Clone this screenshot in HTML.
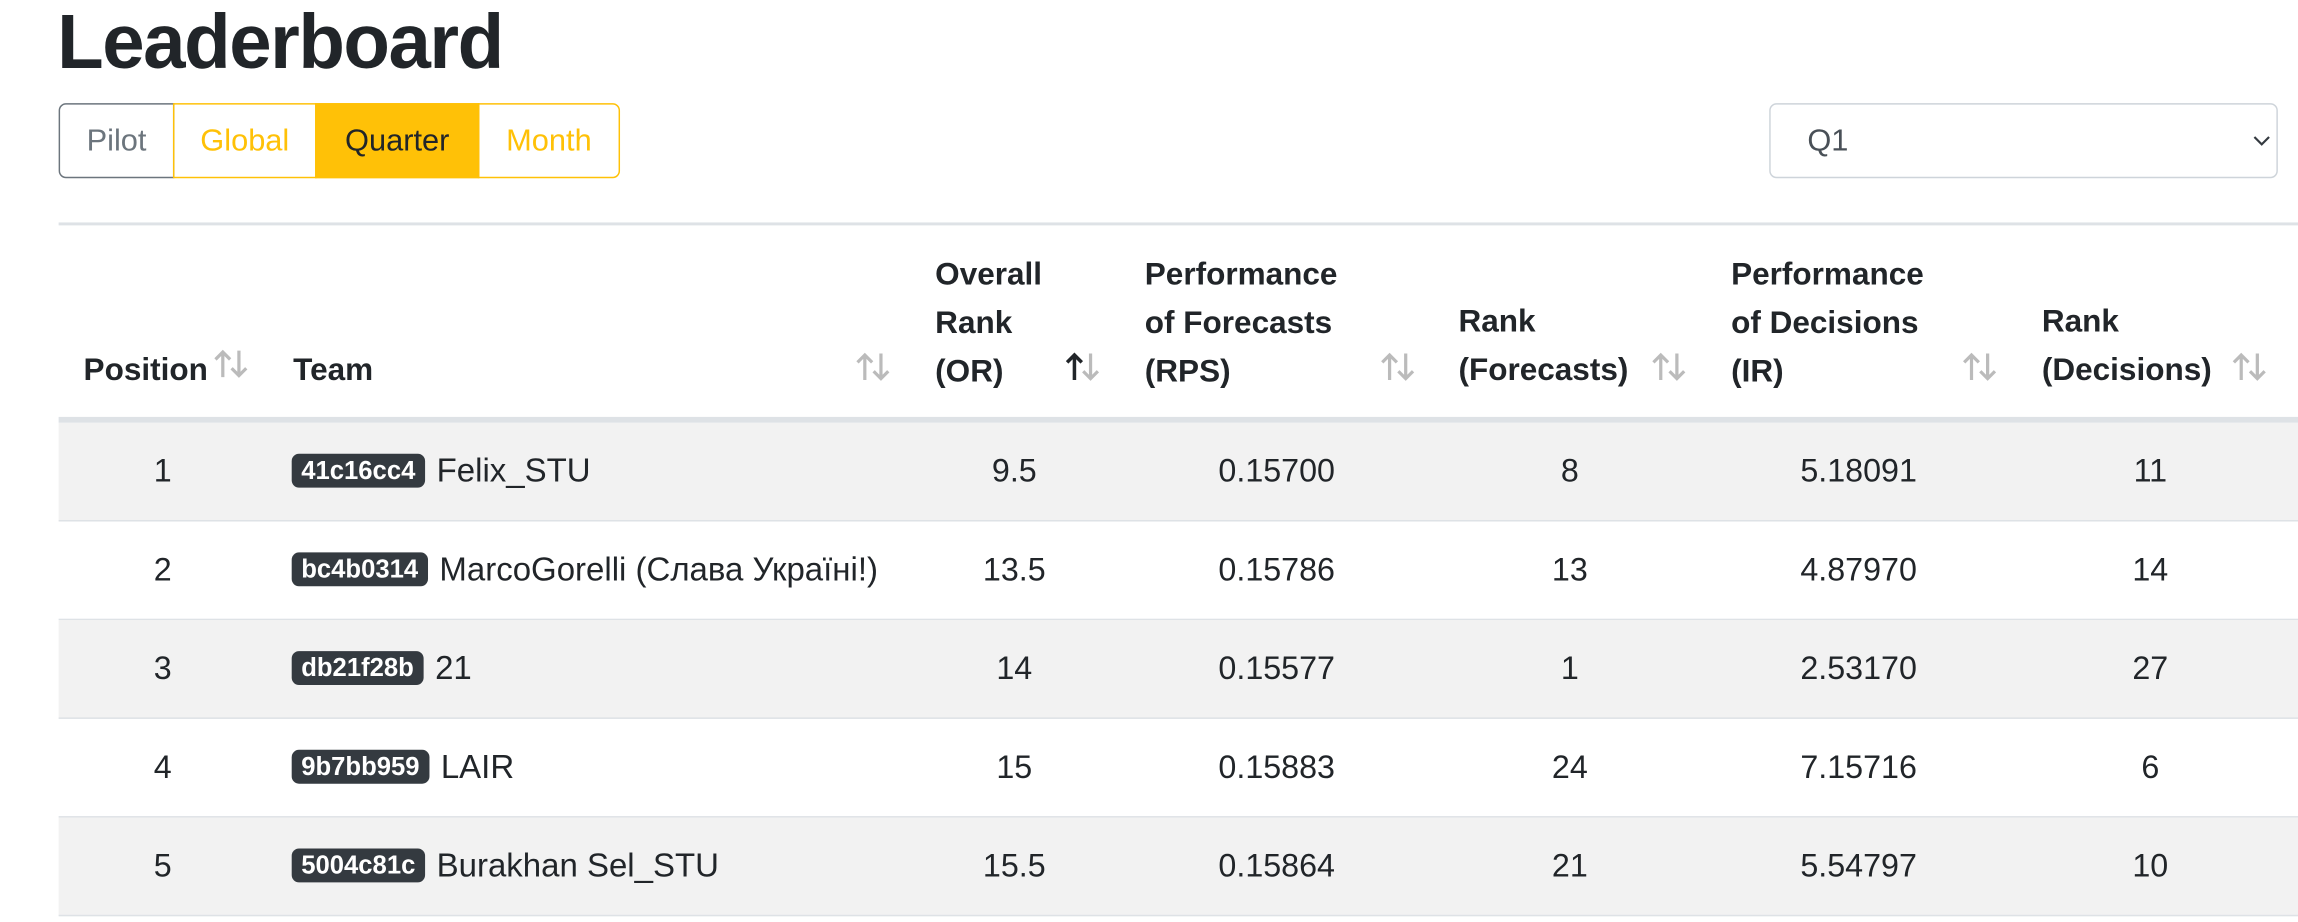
<!DOCTYPE html>
<html><head><meta charset="utf-8"><style>
html,body{margin:0;padding:0;width:2298px;height:922px;overflow:hidden;background:#fff}
#w{position:absolute;left:0;top:0;width:1568px;height:626px;transform:scale(1.4658,1.4731);transform-origin:0 0;font-family:"Liberation Sans","DejaVu Sans",sans-serif;color:#212529}
.a{position:absolute;white-space:nowrap}
.btn{position:absolute;top:70px;height:51px;box-sizing:border-box;font-size:21px;line-height:49px;text-align:center}
.th{position:absolute;font-weight:bold;font-size:21.5px;line-height:33px;white-space:nowrap}
.row{position:absolute;left:40px;width:1528px;height:66px;border-bottom:1px solid #dee2e6}
.c{position:absolute;width:200px;margin-left:-100px;text-align:center;font-size:22px;line-height:66px}
.badge{display:inline-block;background:#343a40;color:#fff;font-weight:bold;font-size:17.5px;line-height:23px;padding:0 6.5px;border-radius:5px;vertical-align:2px;margin-right:8px;font-family:"Liberation Sans",sans-serif}
.team{position:absolute;left:159px;font-size:22.5px;line-height:66px;white-space:nowrap}
.si{position:absolute}
</style></head><body>
<div id="w">
<div class="a" style="left:39px;top:-3px;font-size:52px;font-weight:bold;letter-spacing:-1px;line-height:64px">Leaderboard</div>

<div class="btn" style="left:40px;width:79px;border:1px solid #6c757d;border-radius:5px 0 0 5px;color:#6c757d">Pilot</div>
<div class="btn" style="left:118px;width:98px;border:1px solid #ffc107;color:#ffc107">Global</div>
<div class="btn" style="left:215px;width:112px;border:1px solid #ffc107;background:#ffc107;color:#212529">Quarter</div>
<div class="btn" style="left:326px;width:97px;border:1px solid #ffc107;border-radius:0 5px 5px 0;color:#ffc107">Month</div>

<div class="btn" style="left:1207px;width:347px;border:1px solid #ced4da;border-radius:5px;text-align:left;padding-left:25px;color:#495057">Q1
<svg style="position:absolute;right:4px;top:20px" width="12" height="10"><path d="M1 2 L6 7 L11 2" fill="none" stroke="#343a40" stroke-width="1.5"/></svg></div>

<div class="a" style="left:40px;top:151px;width:1528px;height:2px;background:#dee2e6"></div>

<div class="th" style="left:57px;top:235px">Position</div>
<div class="th" style="left:200px;top:235px">Team</div>
<div class="th" style="left:638px;top:170px">Overall<br>Rank<br>(OR)</div>
<div class="th" style="left:781px;top:170px">Performance<br>of Forecasts<br>(RPS)</div>
<div class="th" style="left:995px;top:202px">Rank<br>(Forecasts)</div>
<div class="th" style="left:1181px;top:170px">Performance<br>of Decisions<br>(IR)</div>
<div class="th" style="left:1393px;top:202px">Rank<br>(Decisions)</div>

<svg class="si" style="left:146px;top:236px" width="26" height="22"><path d="M6 20V3M1 8l5-5 5 5M17 2v17M12 14l5 5 5-5" fill="none" stroke="#bbb" stroke-width="2.2"/></svg>
<svg class="si" style="left:584px;top:238px" width="26" height="22"><path d="M6 20V3M1 8l5-5 5 5M17 2v17M12 14l5 5 5-5" fill="none" stroke="#bbb" stroke-width="2.2"/></svg>
<svg class="si" style="left:727px;top:238px" width="26" height="22"><path d="M6 20V3M1 8l5-5 5 5" fill="none" stroke="#212529" stroke-width="2.4"/><path d="M17 2v17M12 14l5 5 5-5" fill="none" stroke="#bbb" stroke-width="2.2"/></svg>
<svg class="si" style="left:942px;top:238px" width="26" height="22"><path d="M6 20V3M1 8l5-5 5 5M17 2v17M12 14l5 5 5-5" fill="none" stroke="#bbb" stroke-width="2.2"/></svg>
<svg class="si" style="left:1127px;top:238px" width="26" height="22"><path d="M6 20V3M1 8l5-5 5 5M17 2v17M12 14l5 5 5-5" fill="none" stroke="#bbb" stroke-width="2.2"/></svg>
<svg class="si" style="left:1339px;top:238px" width="26" height="22"><path d="M6 20V3M1 8l5-5 5 5M17 2v17M12 14l5 5 5-5" fill="none" stroke="#bbb" stroke-width="2.2"/></svg>
<svg class="si" style="left:1523px;top:238px" width="26" height="22"><path d="M6 20V3M1 8l5-5 5 5M17 2v17M12 14l5 5 5-5" fill="none" stroke="#bbb" stroke-width="2.2"/></svg>

<div class="a" style="left:40px;top:283px;width:1528px;height:4px;background:#dee2e6"></div>

<div class="row" style="top:287px;background:#f2f2f2"><div class="c" style="left:71px">1</div><div class="team"><span class="badge">41c16cc4</span>Felix_STU</div><div class="c" style="left:652px">9.5</div><div class="c" style="left:831px">0.15700</div><div class="c" style="left:1031px">8</div><div class="c" style="left:1228px">5.18091</div><div class="c" style="left:1427px">11</div></div>
<div class="row" style="top:354px"><div class="c" style="left:71px">2</div><div class="team"><span class="badge">bc4b0314</span>MarcoGorelli (Слава Україні!)</div><div class="c" style="left:652px">13.5</div><div class="c" style="left:831px">0.15786</div><div class="c" style="left:1031px">13</div><div class="c" style="left:1228px">4.87970</div><div class="c" style="left:1427px">14</div></div>
<div class="row" style="top:421px;background:#f2f2f2"><div class="c" style="left:71px">3</div><div class="team"><span class="badge">db21f28b</span>21</div><div class="c" style="left:652px">14</div><div class="c" style="left:831px">0.15577</div><div class="c" style="left:1031px">1</div><div class="c" style="left:1228px">2.53170</div><div class="c" style="left:1427px">27</div></div>
<div class="row" style="top:488px"><div class="c" style="left:71px">4</div><div class="team"><span class="badge">9b7bb959</span>LAIR</div><div class="c" style="left:652px">15</div><div class="c" style="left:831px">0.15883</div><div class="c" style="left:1031px">24</div><div class="c" style="left:1228px">7.15716</div><div class="c" style="left:1427px">6</div></div>
<div class="row" style="top:555px;background:#f2f2f2"><div class="c" style="left:71px">5</div><div class="team"><span class="badge">5004c81c</span>Burakhan Sel_STU</div><div class="c" style="left:652px">15.5</div><div class="c" style="left:831px">0.15864</div><div class="c" style="left:1031px">21</div><div class="c" style="left:1228px">5.54797</div><div class="c" style="left:1427px">10</div></div>
</div>
</body></html>
